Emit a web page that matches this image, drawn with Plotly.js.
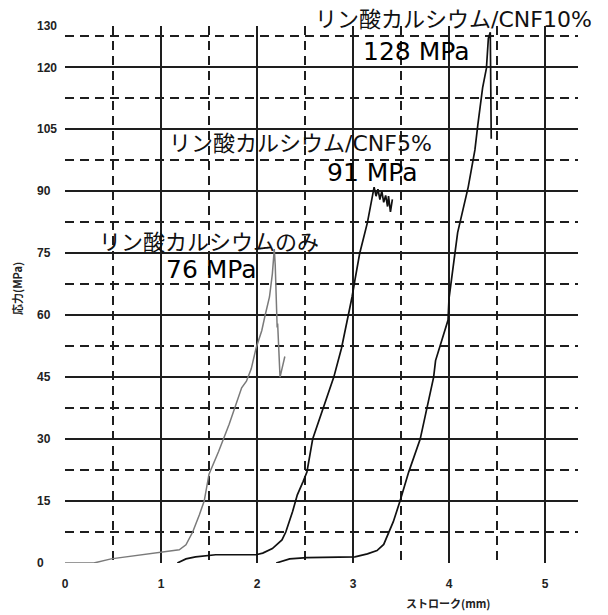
<!DOCTYPE html>
<html>
<head>
<meta charset="utf-8">
<script src="https://cdn.plot.ly/plotly-3.0.1.min.js"></script>
<style>html,body{margin:0;padding:0;background:#fff;}#chart{width:608px;height:615px;}</style>
</head>
<body>
<div id="chart"></div>
<script>
// Stroke (mm) vs stress (MPa)
const cpOnlyX = [0, 0.3, 0.48, 0.77, 1.0, 1.19, 1.26, 1.33, 1.4, 1.45, 1.5, 1.6, 1.71, 1.82, 1.84, 1.89, 1.94, 1.99, 2.05, 2.08, 2.13, 2.16, 2.18, 2.19, 2.2, 2.205, 2.21, 2.215, 2.23, 2.24, 2.26, 2.29];
const cpOnlyY = [0, 0, 1, 1.9, 2.5, 3.2, 4.4, 7.5, 11.7, 15, 21.5, 27, 33.6, 41, 42.4, 44, 47, 52, 56.3, 59.5, 64.4, 70, 76, 72, 60.5, 62, 57, 58, 50, 45, 47, 50];

const cnf5X = [1.17, 1.26, 1.36, 1.57, 1.74, 1.99, 2.06, 2.16, 2.26, 2.3, 2.37, 2.42, 2.48, 2.52, 2.58, 2.68, 2.8, 2.88, 2.95, 2.99, 3.02, 3.07, 3.15, 3.2, 3.22, 3.24, 3.26, 3.28, 3.3, 3.32, 3.34, 3.36, 3.37, 3.39, 3.41];
const cnf5Y = [0, 1, 1.5, 2, 2, 2, 2.4, 3.5, 5.6, 7.5, 12.4, 16.5, 19.7, 22, 30, 36.8, 45, 52, 59.5, 64.4, 68.5, 75, 82.4, 88.8, 91, 88.8, 90.5, 88, 90, 87.3, 89, 86.3, 88.8, 85, 88];

const cnf10X = [2.2, 2.34, 2.52, 2.97, 3.02, 3.15, 3.25, 3.32, 3.37, 3.42, 3.49, 3.58, 3.7, 3.77, 3.84, 3.86, 3.99, 4.0, 4.09, 4.2, 4.27, 4.3, 4.33, 4.35, 4.39, 4.41, 4.43, 4.44];
const cnf10Y = [0, 1, 1.3, 1.5, 1.5, 2.2, 3.0, 4.5, 7.5, 10, 15, 22, 30, 37.4, 45, 49, 58.8, 64, 80, 91, 100, 106, 112.4, 115, 119.8, 127, 128.5, 102.7];

const yTickVals = [0, 15, 30, 45, 60, 75, 90, 105, 120, 130];
const yTickText = ["0", "15", "30", "45", "60", "75", "90", "105", "120", "130"];
const yMinorVals = [7.5, 22.5, 37.5, 52.5, 67.5, 82.5, 97.5, 112.5, 127.5];
const xTickVals = [0, 1, 2, 3, 4, 5];
const xMinorVals = [0.5, 1.5, 2.5, 3.5, 4.5];

const labelText = ["リン酸カルシウムのみ", "76 MPa", "リン酸カルシウム/CNF5%", "91 MPa", "リン酸カルシウム/CNF10%", "128 MPa"];
const labelX = [1.50, 1.53, 2.45, 3.20, 4.05, 3.66];
const labelY = [77.6, 71.0, 101.5, 94.6, null, 123.8];   // null = above the plot
const labelBig = [false, true, false, true, false, true];

// pad short y labels with figure spaces so they left-align like the original
const padded = yTickText.map(t => t + "\u2007".repeat(3 - t.length));

const traces = [
  {x: cpOnlyX, y: cpOnlyY, mode: "lines", line: {color: "#7a7a7a", width: 1.5}, hoverinfo: "skip"},
  {x: cnf5X, y: cnf5Y, mode: "lines", line: {color: "#111", width: 1.7}, hoverinfo: "skip"},
  {x: cnf10X, y: cnf10Y, mode: "lines", line: {color: "#111", width: 1.7}, hoverinfo: "skip"}
];

const H = 537, B = 52, L = 65, W = 513, TOP = 615 - B - H;
const annotations = labelText.map((t, i) => ({
  text: t, x: labelX[i], xref: "x",
  y: labelY[i] === null ? 1 + (TOP - 20) / H : labelY[i],
  yref: labelY[i] === null ? "paper" : "y",
  showarrow: false, xanchor: "center", yanchor: "middle",
  font: labelBig[i] ? {family: "DejaVu Sans, Noto Sans CJK JP", size: 25, color: "#000"}
                    : {family: "DejaVu Sans, Noto Sans CJK JP", size: 22, color: "#111"}
}));
annotations.push({
  text: "ストローク(mm)", xref: "paper", yref: "paper", x: (448 - L) / W, y: -(603 - (615 - B)) / H,
  xanchor: "center", yanchor: "middle", showarrow: false,
  font: {family: "Noto Sans CJK JP", size: 11, color: "#222", weight: "bold"}
});
annotations.push({
  text: "応力(MPa)", xref: "paper", yref: "paper", x: (17 - L) / W, y: (615 - B - 289) / H,
  xanchor: "center", yanchor: "middle", showarrow: false, textangle: -90,
  font: {family: "Noto Sans CJK JP", size: 11, color: "#222", weight: "bold"}
});

const gridCol = "#1e1e1e";
const layout = {
  width: 608, height: 615,
  margin: {l: L, r: 608 - L - W, t: TOP, b: B},
  paper_bgcolor: "#fff", plot_bgcolor: "#fff",
  showlegend: false,
  xaxis: {
    range: [0, W / 96], tickmode: "array", tickvals: xTickVals,
    showgrid: true, gridcolor: gridCol, gridwidth: 2,
    zeroline: false, showline: false, ticks: "",
    tickfont: {family: "Liberation Sans, Arial", size: 12, color: "#222", weight: "bold"},
    ticklabelstandoff: 12,
    minor: {tickmode: "array", tickvals: xMinorVals, showgrid: true, gridcolor: gridCol, gridwidth: 2, griddash: "9px,6px", ticks: ""},
    fixedrange: true
  },
  yaxis: {
    range: [0, 130], tickmode: "array", tickvals: yTickVals, ticktext: padded,
    showgrid: true, gridcolor: gridCol, gridwidth: 2,
    zeroline: false, showline: false, ticks: "",
    tickfont: {family: "Liberation Sans, Arial", size: 12, color: "#222", weight: "bold"},
    ticklabelstandoff: 7,
    minor: {tickmode: "array", tickvals: yMinorVals, showgrid: true, gridcolor: gridCol, gridwidth: 2, griddash: "9px,6px", ticks: ""},
    fixedrange: true
  },
  annotations: annotations
};

Plotly.newPlot("chart", traces, layout, {staticPlot: true, displayModeBar: false});
</script>
</body>
</html>
